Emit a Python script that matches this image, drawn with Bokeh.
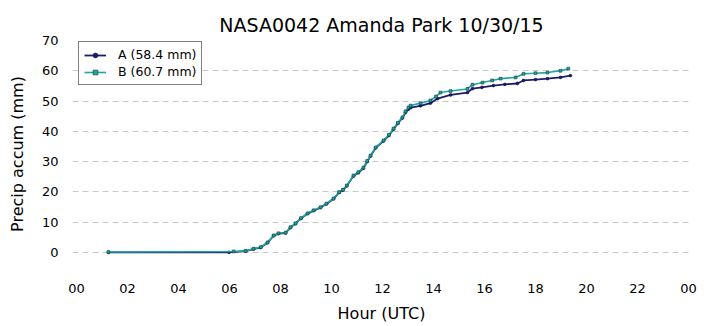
from bokeh.plotting import figure
from bokeh.models import Range1d, FixedTicker, Legend, LegendItem
from bokeh.embed import file_html
from bokeh.resources import INLINE

# Data (hour UTC, accumulated mm)
hours_a = [1.25, 5.98, 6.63, 6.94, 7.22, 7.49, 7.73, 7.92, 8.2, 8.39, 8.59, 8.8, 9.06, 9.3, 9.57,
           9.8, 10.08, 10.3, 10.45, 10.6, 10.86, 11.05, 11.25, 11.4, 11.53, 11.73, 12.04, 12.25,
           12.43, 12.6, 12.78, 12.9, 13.02, 13.1, 13.49, 13.88, 14.16, 14.67, 15.33, 15.53,
           15.9, 16.35, 16.8, 17.29, 17.53, 18.0, 18.47, 18.98, 19.37]
mm_a = [0.0, 0.0, 0.4, 1.1, 1.6, 3.2, 5.5, 6.2, 6.4, 8.2, 9.5, 11.2, 12.8, 13.8, 14.8,
        16.0, 17.7, 19.8, 20.6, 22.0, 25.2, 26.3, 27.8, 30.0, 31.8, 34.5, 36.8, 38.6,
        40.7, 42.6, 44.4, 46.2, 47.3, 47.8, 48.4, 49.3, 50.8, 52.0, 52.8, 54.1,
        54.5, 55.1, 55.5, 55.8, 56.8, 57.1, 57.4, 57.8, 58.4]

hours_b = [1.25, 6.16, 6.63, 6.94, 7.22, 7.49, 7.73, 7.92, 8.2, 8.39, 8.59, 8.8, 9.06, 9.3, 9.57,
           9.8, 10.08, 10.3, 10.45, 10.6, 10.86, 11.05, 11.25, 11.4, 11.53, 11.73, 12.04, 12.25,
           12.43, 12.6, 12.78, 12.9, 13.02, 13.1, 13.49, 13.88, 14.1, 14.27, 14.67, 15.33,
           15.53, 15.92, 16.3, 16.63, 17.22, 17.53, 18.0, 18.47, 18.98, 19.29]
mm_b = [0.1, 0.3, 0.5, 1.2, 1.7, 3.3, 5.6, 6.3, 6.5, 8.3, 9.6, 11.3, 12.9, 13.9, 14.9,
        16.1, 17.8, 19.9, 20.7, 22.1, 25.4, 26.5, 28.0, 30.2, 32.0, 34.7, 37.0, 38.8,
        40.9, 42.8, 44.6, 46.6, 47.9, 48.5, 49.3, 50.2, 51.5, 52.8, 53.3, 54.0,
        55.4, 56.1, 56.8, 57.4, 57.8, 59.0, 59.2, 59.4, 60.0, 60.7]

label_a = "A (58.4 mm)"
label_b = "B (60.7 mm)"
x_ticks = [0, 2, 4, 6, 8, 10, 12, 14, 16, 18, 20, 22, 24]
x_tick_labels = ["00", "02", "04", "06", "08", "10", "12", "14", "16", "18", "20", "22", "00"]
y_ticks = [0, 10, 20, 30, 40, 50, 60, 70]

FONT = "DejaVu Sans"
COL_A = "#1c1c70"
COL_B = "#1fa89f"

p = figure(width=706, height=326, output_backend="svg", toolbar_location=None,
           x_range=Range1d(-0.16, 24.08), y_range=Range1d(-5, 70),
           min_border_left=72, min_border_right=16, min_border_top=40, min_border_bottom=59)
p.outline_line_color = None
p.background_fill_color = "white"
p.border_fill_color = "white"

p.title.text = "NASA0042 Amanda Park 10/30/15"
p.title.align = "center"
p.title.text_font = FONT
p.title.text_font_style = "normal"
p.title.text_font_size = "19px"
p.title.text_color = "black"

p.xaxis.ticker = FixedTicker(ticks=x_ticks)
p.xaxis.major_label_overrides = {t: l for t, l in zip(x_ticks, x_tick_labels)}
p.yaxis.ticker = FixedTicker(ticks=y_ticks)
for ax in (p.xaxis, p.yaxis):
    ax.axis_line_color = None
    ax.major_tick_line_color = None
    ax.minor_tick_line_color = None
    ax.major_label_text_font = FONT
    ax.major_label_text_font_size = "13px"
    ax.major_label_text_color = "black"
    ax.axis_label_text_font = FONT
    ax.axis_label_text_font_size = "16px"
    ax.axis_label_text_font_style = "normal"
    ax.axis_label_text_color = "black"
p.xaxis.axis_label = "Hour (UTC)"
p.yaxis.axis_label = "Precip accum (mm)"
p.xaxis.major_label_standoff = 10
p.yaxis.major_label_standoff = 8
p.xaxis.axis_label_standoff = 8
p.yaxis.axis_label_standoff = 12

p.xgrid.grid_line_color = None
p.ygrid.grid_line_color = "#c8c8c8"
p.ygrid.grid_line_dash = "6 4"
p.ygrid.grid_line_width = 1

la = p.line(hours_a, mm_a, line_color=COL_A, line_width=1.8)
ma = p.scatter(hours_a, mm_a, marker="circle", size=2.8, fill_color=COL_A, line_color="#0a0a3a", line_width=0.6)
lb = p.line(hours_b, mm_b, line_color=COL_B, line_width=1.6)
mb = p.scatter(hours_b, mm_b, marker="square", size=2.8, fill_color=COL_B, line_color="#0d3b3a", line_width=0.6)

legend = Legend(items=[LegendItem(label=label_a, renderers=[la, ma]),
                       LegendItem(label=label_b, renderers=[lb, mb])],
                location=(6, 182))
legend.border_line_color = "black"
legend.border_line_width = 1.2
legend.label_text_font = FONT
legend.label_text_font_size = "12.5px"
legend.label_text_color = "black"
legend.glyph_width = 22
legend.glyph_height = 12
legend.label_standoff = 12
legend.padding = 5
legend.spacing = 2
legend.margin = 0
legend.background_fill_alpha = 1
p.add_layout(legend, "center")

open("out.html", "w").write(file_html(p, INLINE))
